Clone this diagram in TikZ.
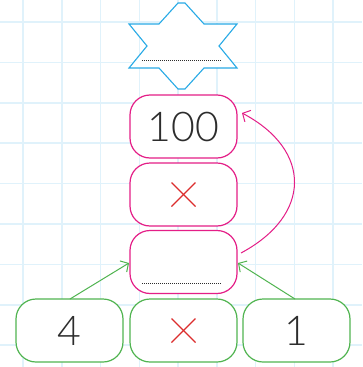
\documentclass[tikz,border=0pt]{standalone}
\usepackage{fontspec}
\setmainfont{Lato}
\newfontfamily\lightfont{Lato Light}
\usetikzlibrary{arrows.meta,calc}
\definecolor{gridc}{RGB}{224,242,251}
\definecolor{mag}{RGB}{228,30,135}
\definecolor{grn}{RGB}{80,180,80}
\definecolor{starc}{RGB}{40,170,230}
\definecolor{txt}{RGB}{45,45,45}
\definecolor{crossc}{RGB}{220,45,45}
\tikzset{
  magbox/.style={draw=mag, line width=1.2pt, rounded corners=20pt, minimum width=107pt, minimum height=63pt, inner sep=0pt},
  grnbox/.style={draw=grn, line width=1.2pt, rounded corners=20pt, minimum width=107pt, minimum height=63pt, inner sep=0pt},
  digit/.style={text=txt, font=\lightfont\fontsize{41}{41}\selectfont},
  dots/.style={draw=txt, line width=0.9pt, dash pattern=on 1pt off 1pt},
  crossl/.style={draw=crossc, line width=1.3pt},
  garrow/.style={draw=grn, line width=1pt, -{Straight Barb[length=6pt,width=13pt,line width=1pt]}},
  marrow/.style={draw=mag, line width=1pt, -{Straight Barb[length=6pt,width=13pt,line width=1pt]}}
}
\begin{document}
\begin{tikzpicture}[x=1pt,y=-1pt]
\useasboundingbox (0,0) rectangle (362,367);
\fill[white] (0,0) rectangle (362,367);
% grid
\foreach \i in {0,...,8} {
  \draw[gridc, line width=1.5pt] ({23+\i*38.75},0) -- ({23+\i*38.75},367);
}
\foreach \j in {0,...,8} {
  \draw[gridc, line width=1.5pt] (0,{22+\j*40.4}) -- (362,{22+\j*40.4});
}
% star
\draw[starc, line width=1.1pt, fill=white]
  (178,3) -- (185,3) -- (204,24) -- (237,24) -- (219,46) -- (237,68) -- (204,68)
  -- (185,89) -- (178,89) -- (159,68) -- (129,68) -- (147,46) -- (129,24) -- (159,24) -- cycle;
\coordinate (sd1) at (142,60);
\coordinate (sd2) at (221,60);
\draw[dots] (sd1) -- (sd2);
% magenta boxes
\node[magbox, fill=white] (b100) at (183.5,126.5) {};
\node[digit] at (b100.center) {100};
\node[magbox, fill=white] (bx) at (183.5,194.5) {};
\draw[crossl] ($(bx.center)+(-12,-12)$) -- ($(bx.center)+(12,12)$);
\draw[crossl] ($(bx.center)+(12,-12)$) -- ($(bx.center)+(-12,12)$);
\node[magbox, fill=white] (bb) at (183.5,262) {};
\coordinate (bd1) at (142,283);
\coordinate (bd2) at (222,283);
\draw[dots] (bd1) -- (bd2);
% green boxes
\node[grnbox, fill=white] (g4) at (69.5,330.5) {};
\node[digit] at (g4.center) {4};
\node[grnbox, fill=white] (gx) at (183.5,330.5) {};
\draw[crossl] ($(gx.center)+(-12,-12)$) -- ($(gx.center)+(12,12)$);
\draw[crossl] ($(gx.center)+(12,-12)$) -- ($(gx.center)+(-12,12)$);
\node[grnbox, fill=white] (g1) at (296.5,330.5) {};
\node[digit] at (g1.center) {1};
% arrows
\coordinate (a1s) at (70,299);
\coordinate (a1e) at (129,263);
\coordinate (a2s) at (295,299);
\coordinate (a2e) at (238,263);
\draw[garrow] (a1s) -- (a1e);
\draw[garrow] (a2s) -- (a2e);
\coordinate (cs) at (241,253);
\coordinate (ce) at (242,113);
\draw[marrow] (cs) .. controls (312,215) and (312,150) .. (ce);
\end{tikzpicture}
\end{document}
